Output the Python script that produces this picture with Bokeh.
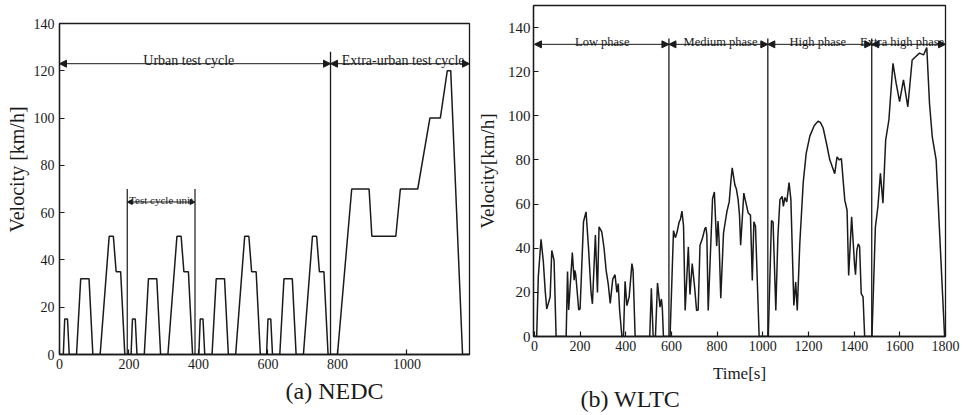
from bokeh.plotting import figure
from bokeh.layouts import row, column
from bokeh.models import Arrow, NormalHead, Label, Range1d, FixedTicker, Title
from bokeh.embed import file_html
from bokeh.resources import INLINE

FONT = "Liberation Serif"
INK = "#1a1a1a"

# ---------------- NEDC (a) ----------------
nedc_t = [0, 11, 15, 23, 28, 49, 61, 85, 96, 117, 143, 155, 163, 176, 188, 195,
          206, 210, 218, 223, 244, 256, 280, 291, 312, 338, 350, 358, 371, 383, 390,
          401, 405, 413, 418, 439, 451, 475, 486, 507, 533, 545, 553, 566, 578, 585,
          596, 600, 608, 613, 634, 646, 670, 681, 702, 728, 740, 748, 761, 773, 780,
          800, 841, 891, 899, 968, 981, 1031, 1066, 1096, 1116, 1126, 1160, 1180]
nedc_v = [0, 0, 15, 15, 0, 0, 32, 32, 0, 0, 50, 50, 35, 35, 0, 0,
          0, 15, 15, 0, 0, 32, 32, 0, 0, 50, 50, 35, 35, 0, 0,
          0, 15, 15, 0, 0, 32, 32, 0, 0, 50, 50, 35, 35, 0, 0,
          0, 15, 15, 0, 0, 32, 32, 0, 0, 50, 50, 35, 35, 0, 0,
          0, 70, 70, 50, 50, 70, 70, 100, 100, 120, 120, 0, 0]
nedc_x_ticks = [0, 200, 400, 600, 800, 1000]
nedc_y_ticks = [0, 20, 40, 60, 80, 100, 120, 140]
nedc_phase_bounds = [0, 780, 1180]
nedc_phase_names = ["Urban test cycle", "Extra-urban test cycle"]
nedc_phase_label_x = [372, 989]
nedc_unit_bounds = [195, 390]
nedc_unit_name = "Test cycle unit"

# ---------------- WLTC (b) ----------------
wltc_t = [0, 10, 17, 29, 39, 47, 54, 61, 69, 76, 86, 95, 139, 145, 150, 166, 174, 177, 181, 194,
          200, 215, 226, 237, 248, 254, 267, 276, 283, 295, 305, 314, 323, 332, 343, 353, 361, 367,
          373, 383, 390, 397, 405, 415, 427, 432, 441, 505, 512, 520, 530, 539, 550, 556, 560, 565,
          594, 609, 617, 624, 634, 639, 646, 653, 660, 674, 681, 691, 702, 710, 717, 725, 737, 746,
          751, 755, 761, 780, 788, 798, 804, 808, 816, 828, 843, 853, 860, 866, 878, 884, 892, 898,
          903, 917, 923, 936, 946, 954, 961, 968, 984, 1024, 1038, 1045, 1057, 1066, 1075, 1085,
          1090, 1097, 1105, 1115, 1123, 1136, 1144, 1151, 1162, 1177, 1190, 1206, 1225, 1242, 1252,
          1264, 1280, 1293, 1315, 1325, 1335, 1344, 1359, 1369, 1376, 1389, 1402, 1406, 1412, 1418,
          1424, 1431, 1439, 1446, 1478, 1493, 1504, 1515, 1526, 1538, 1552, 1570, 1584, 1599, 1616,
          1635, 1654, 1669, 1686, 1704, 1718, 1730, 1742, 1759, 1796, 1800]
wltc_v = [0, 0, 27, 44, 34, 21, 12.5, 15, 18, 39, 34.5, 0, 0, 29.5, 12, 38, 25.5, 30, 28, 12,
          12.5, 52, 56.5, 40, 20, 14.8, 46, 20, 49.7, 47.4, 40, 30, 24, 15, 26, 28, 20, 24,
          12, 0, 0, 25, 14, 18, 33, 30, 0, 0, 21.8, 0, 0, 24.2, 13.3, 17, 13, 0,
          0, 48, 44.8, 47, 52, 53, 56.8, 50, 11.8, 40.6, 19, 33, 21.8, 11.8, 12, 41.2, 45, 48.8,
          49.5, 46, 11.8, 62.5, 65.5, 41, 52.3, 45, 17.4, 46.9, 56.7, 61, 70, 76.4, 68.6, 67, 62, 55,
          41.4, 65, 62, 56, 55, 25.4, 52, 50, 0, 0, 52.6, 51.9, 11.8, 45, 62, 63.5,
          59, 63, 61, 69.8, 62, 14.1, 24.7, 11.8, 42, 69.8, 83, 90.8, 95.5, 97.6, 97,
          94.6, 87, 80.2, 73.8, 81.4, 80, 80.6, 61.8, 57.2, 27.7, 54.2, 32.2, 28, 39.2, 42,
          40.7, 19.4, 18, 0, 0, 49.6, 58.8, 74, 60.4, 89, 98, 123.8, 114.7, 106.4, 116.3,
          104.1, 125.3, 126.8, 128.4, 127.6, 131, 105.6, 90.5, 80, 0, 0]
wltc_x_ticks = [0, 200, 400, 600, 800, 1000, 1200, 1400, 1600, 1800]
wltc_y_ticks = [0, 20, 40, 60, 80, 100, 120, 140]
wltc_phase_bounds = [0, 589, 1022, 1477, 1800]
wltc_phase_names = ["Low phase", "Medium phase", "High phase", "Extra high phase"]
wltc_phase_label_x = [297, 815, 1241, 1610]

H = 415


def style(p, xticks, yticks, tick_size):
    p.xgrid.visible = False
    p.ygrid.visible = False
    p.outline_line_color = INK
    p.outline_line_width = 1.3
    p.background_fill_color = "white"
    p.border_fill_color = "white"
    for ax in (p.xaxis[0], p.yaxis[0]):
        ax.axis_line_color = INK
        ax.axis_line_width = 1.3
        ax.major_tick_in = 5
        ax.major_tick_out = 0
        ax.major_tick_line_color = INK
        ax.major_tick_line_width = 1.2
        ax.minor_tick_line_color = None
        ax.major_label_text_font = FONT
        ax.major_label_text_color = INK
        ax.major_label_text_font_size = tick_size
        ax.axis_label_text_font = FONT
        ax.axis_label_text_font_style = "normal"
        ax.axis_label_text_color = INK
    p.xaxis[0].ticker = FixedTicker(ticks=xticks)
    p.yaxis[0].ticker = FixedTicker(ticks=yticks)
    p.xaxis[0].major_label_standoff = 4
    p.yaxis[0].major_label_standoff = 5


def head(size=7):
    return NormalHead(size=size, fill_color=INK, line_color=INK, line_width=1)


def caption(text, offset, standoff, valign="bottom"):
    return Title(text=text, align="left", offset=offset, standoff=standoff,
                 vertical_align=valign,
                 text_font=FONT, text_font_size="24px", text_font_style="normal",
                 text_color=INK)


# ---------- figure (a) ----------
p1 = figure(width=472, height=H, x_range=Range1d(0, 1180), y_range=Range1d(0, 140),
            output_backend="svg", toolbar_location=None,
            min_border_left=57, min_border_right=3, min_border_top=23, min_border_bottom=H - 354)
style(p1, nedc_x_ticks, nedc_y_ticks, "14px")
p1.line(nedc_t, nedc_v, line_color=INK, line_width=1.5)

p1.segment(x0=[nedc_phase_bounds[1]], y0=[0], x1=[nedc_phase_bounds[1]], y1=[128],
           line_color=INK, line_width=1.3)
p1.segment(x0=nedc_unit_bounds, y0=[0, 0], x1=nedc_unit_bounds, y1=[70, 70],
           line_color=INK, line_width=1.2)
for i in range(2):
    p1.add_layout(Arrow(start=head(), end=head(), x_start=nedc_phase_bounds[i], y_start=123,
                        x_end=nedc_phase_bounds[i + 1], y_end=123, line_color=INK, line_width=1))
    p1.add_layout(Label(x=nedc_phase_label_x[i], y=124.5, text=nedc_phase_names[i],
                        text_font=FONT, text_font_size="14px", text_color=INK,
                        text_align="center", text_baseline="alphabetic"))
p1.add_layout(Arrow(start=head(5), end=head(5),
                    x_start=nedc_unit_bounds[0], y_start=64.5,
                    x_end=nedc_unit_bounds[1], y_end=64.5, line_color=INK, line_width=1))
p1.add_layout(Label(x=(nedc_unit_bounds[0] + nedc_unit_bounds[1]) / 2, y=65.5, text=nedc_unit_name,
                    text_font=FONT, text_font_size="11px", text_color=INK,
                    text_align="center", text_baseline="alphabetic"))
p1.add_layout(Title(text="Velocity [km/h]", align="left", offset=122, standoff=6,
                    text_font=FONT, text_font_size="20px", text_font_style="normal",
                    text_color=INK), "left")
p1.add_layout(caption("(a) NEDC", 226, 12, "top"), "below")

# ---------- figure (b) ----------
W2 = 493
p2 = figure(width=W2, height=H, x_range=Range1d(-4, 1800), y_range=Range1d(0, 150),
            output_backend="svg", toolbar_location=None,
            min_border_left=61, min_border_right=W2 - 61 - 412, min_border_top=5,
            min_border_bottom=H - 336)
style(p2, wltc_x_ticks, wltc_y_ticks, "14px")
p2.yaxis[0].major_label_text_font_size = "15px"
p2.yaxis[0].major_label_standoff = 3
p2.yaxis[0].axis_label = "Velocity[km/h]"
p2.yaxis[0].axis_label_text_font_size = "19px"
p2.yaxis[0].axis_label_standoff = 7
p2.xaxis[0].axis_label = "Time[s]"
p2.xaxis[0].axis_label_text_font_size = "17px"
p2.xaxis[0].axis_label_standoff = 10
p2.line(wltc_t, wltc_v, line_color=INK, line_width=1.5)
inner = wltc_phase_bounds[1:-1]
p2.segment(x0=inner, y0=[0] * len(inner), x1=inner, y1=[135] * len(inner),
           line_color=INK, line_width=1.3)
for i in range(4):
    p2.add_layout(Arrow(start=head(), end=head(), x_start=wltc_phase_bounds[i], y_start=132.4,
                        x_end=wltc_phase_bounds[i + 1], y_end=132.4, line_color=INK, line_width=1))
    p2.add_layout(Label(x=wltc_phase_label_x[i], y=133.3, text=wltc_phase_names[i],
                        text_font=FONT, text_font_size="12.5px", text_color=INK,
                        text_align="center", text_baseline="alphabetic"))
p2.add_layout(caption("(b) WLTC", 47, -4), "below")

layout = row(column(p1), column(p2))
open("out.html", "w").write(file_html(layout, INLINE))
